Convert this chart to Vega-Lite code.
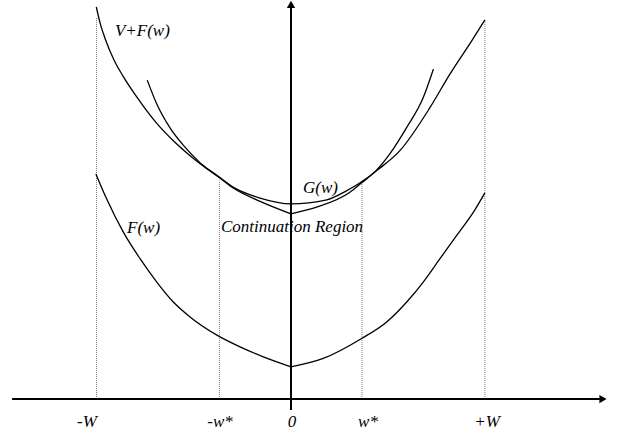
{
  "$schema": "https://vega.github.io/schema/vega-lite/v6.json",
  "width": 628,
  "height": 436,
  "padding": 0,
  "autosize": {"type": "fit", "contains": "padding"},
  "background": "white",
  "config": {"view": {"stroke": null}},
  "datasets": {
    "curves": [
      {"curve": "VF-L", "w": -1.001, "v": 3.93},
      {"curve": "VF-L", "w": -0.980, "v": 3.759},
      {"curve": "VF-L", "w": -0.956, "v": 3.615},
      {"curve": "VF-L", "w": -0.910, "v": 3.399},
      {"curve": "VF-L", "w": -0.862, "v": 3.232},
      {"curve": "VF-L", "w": -0.776, "v": 2.982},
      {"curve": "VF-L", "w": -0.690, "v": 2.764},
      {"curve": "VF-L", "w": -0.605, "v": 2.59},
      {"curve": "VF-L", "w": -0.519, "v": 2.44},
      {"curve": "VF-L", "w": -0.433, "v": 2.31},
      {"curve": "VF-L", "w": -0.374, "v": 2.229},
      {"curve": "VF-L", "w": -0.297, "v": 2.116},
      {"curve": "VF-L", "w": -0.159, "v": 1.982},
      {"curve": "VF-L", "w": 0.0, "v": 1.857},
      {"curve": "VF-R", "w": 0.0, "v": 1.857},
      {"curve": "VF-R", "w": 0.132, "v": 1.923},
      {"curve": "VF-R", "w": 0.303, "v": 2.073},
      {"curve": "VF-R", "w": 0.365, "v": 2.17},
      {"curve": "VF-R", "w": 0.441, "v": 2.29},
      {"curve": "VF-R", "w": 0.560, "v": 2.49},
      {"curve": "VF-R", "w": 0.715, "v": 2.923},
      {"curve": "VF-R", "w": 0.817, "v": 3.257},
      {"curve": "VF-R", "w": 0.929, "v": 3.59},
      {"curve": "VF-R", "w": 0.997, "v": 3.80},
      {"curve": "G", "w": -0.739, "v": 3.197},
      {"curve": "G", "w": -0.690, "v": 2.957},
      {"curve": "G", "w": -0.622, "v": 2.718},
      {"curve": "G", "w": -0.554, "v": 2.545},
      {"curve": "G", "w": -0.468, "v": 2.37},
      {"curve": "G", "w": -0.374, "v": 2.232},
      {"curve": "G", "w": -0.298, "v": 2.125},
      {"curve": "G", "w": -0.159, "v": 2.015},
      {"curve": "G", "w": 0.0, "v": 1.957},
      {"curve": "G", "w": 0.184, "v": 1.997},
      {"curve": "G", "w": 0.278, "v": 2.08},
      {"curve": "G", "w": 0.365, "v": 2.18},
      {"curve": "G", "w": 0.437, "v": 2.29},
      {"curve": "G", "w": 0.509, "v": 2.46},
      {"curve": "G", "w": 0.595, "v": 2.723},
      {"curve": "G", "w": 0.680, "v": 3.023},
      {"curve": "G", "w": 0.732, "v": 3.307},
      {"curve": "F-L", "w": -1.003, "v": 2.257},
      {"curve": "F-L", "w": -0.948, "v": 2.007},
      {"curve": "F-L", "w": -0.862, "v": 1.673},
      {"curve": "F-L", "w": -0.776, "v": 1.407},
      {"curve": "F-L", "w": -0.690, "v": 1.173},
      {"curve": "F-L", "w": -0.605, "v": 0.973},
      {"curve": "F-L", "w": -0.519, "v": 0.823},
      {"curve": "F-L", "w": -0.374, "v": 0.633},
      {"curve": "F-L", "w": -0.262, "v": 0.523},
      {"curve": "F-L", "w": -0.142, "v": 0.423},
      {"curve": "F-L", "w": 0.0, "v": 0.323},
      {"curve": "F-R", "w": 0.0, "v": 0.323},
      {"curve": "F-R", "w": 0.166, "v": 0.407},
      {"curve": "F-R", "w": 0.363, "v": 0.607},
      {"curve": "F-R", "w": 0.492, "v": 0.773},
      {"curve": "F-R", "w": 0.595, "v": 0.973},
      {"curve": "F-R", "w": 0.680, "v": 1.173},
      {"curve": "F-R", "w": 0.766, "v": 1.407},
      {"curve": "F-R", "w": 0.852, "v": 1.64},
      {"curve": "F-R", "w": 0.938, "v": 1.873},
      {"curve": "F-R", "w": 0.997, "v": 2.067}
    ],
    "axes": [
      {"name": "h", "w": -1.434, "w2": 1.59, "v": 0, "v2": 0},
      {"name": "v", "w": 0, "w2": 0, "v": -0.11, "v2": 3.93}
    ],
    "arrows": [
      {"name": "up", "w": 0, "v": 3.955, "shape": "triangle-up"},
      {"name": "right", "w": 1.604, "v": 0, "shape": "triangle-right"}
    ],
    "guides": [
      {"name": "-W", "w": -1.0, "v": 0, "v2": 3.82},
      {"name": "-w*", "w": -0.368, "v": 0, "v2": 2.19},
      {"name": "w*", "w": 0.365, "v": 0, "v2": 2.19},
      {"name": "+W", "w": 0.997, "v": 0, "v2": 3.80}
    ],
    "labels": [
      {"label": "V+F(w)", "w": -0.905, "v": 3.69},
      {"label": "G(w)", "w": 0.062, "v": 2.12},
      {"label": "F(w)", "w": -0.843, "v": 1.71},
      {"label": "Continuation Region", "w": -0.36, "v": 1.72}
    ],
    "ticks": [
      {"label": "-W", "w": -1.049, "v": -0.23},
      {"label": "-w*", "w": -0.365, "v": -0.23},
      {"label": "0", "w": 0.005, "v": -0.23},
      {"label": "w*", "w": 0.396, "v": -0.23},
      {"label": "+W", "w": 1.008, "v": -0.23}
    ]
  },
  "layer": [
    {
      "data": {"name": "guides"},
      "mark": {"type": "rule", "color": "#777777", "strokeWidth": 1, "strokeDash": [1, 1]},
      "encoding": {
        "x": {"field": "w", "type": "quantitative", "scale": {"domain": [-1.4961, 1.7326], "nice": false, "zero": false}, "axis": null},
        "y": {"field": "v", "type": "quantitative", "scale": {"domain": [-0.37, 3.99], "nice": false, "zero": false}, "axis": null},
        "y2": {"field": "v2"}
      }
    },
    {
      "data": {"name": "axes"},
      "mark": {"type": "rule", "color": "black", "strokeWidth": 2},
      "encoding": {
        "x": {"field": "w", "type": "quantitative"},
        "x2": {"field": "w2"},
        "y": {"field": "v", "type": "quantitative"},
        "y2": {"field": "v2"}
      }
    },
    {
      "data": {"name": "arrows"},
      "mark": {"type": "point", "filled": true, "color": "black", "opacity": 1, "size": 70},
      "encoding": {
        "x": {"field": "w", "type": "quantitative"},
        "y": {"field": "v", "type": "quantitative"},
        "shape": {"field": "shape", "type": "nominal", "scale": null, "legend": null}
      }
    },
    {
      "data": {"name": "curves"},
      "mark": {"type": "line", "color": "black", "strokeWidth": 1.3, "interpolate": "monotone"},
      "encoding": {
        "x": {"field": "w", "type": "quantitative"},
        "y": {"field": "v", "type": "quantitative"},
        "detail": {"field": "curve", "type": "nominal"},
        "order": {"field": "w", "type": "quantitative"}
      }
    },
    {
      "data": {"name": "labels"},
      "mark": {"type": "text", "font": "Liberation Serif", "fontStyle": "italic", "fontSize": 17, "align": "left", "baseline": "middle", "color": "black"},
      "encoding": {
        "x": {"field": "w", "type": "quantitative"},
        "y": {"field": "v", "type": "quantitative"},
        "text": {"field": "label", "type": "nominal"}
      }
    },
    {
      "data": {"name": "ticks"},
      "mark": {"type": "text", "font": "Liberation Serif", "fontStyle": "italic", "fontSize": 17, "align": "center", "baseline": "middle", "color": "black"},
      "encoding": {
        "x": {"field": "w", "type": "quantitative"},
        "y": {"field": "v", "type": "quantitative"},
        "text": {"field": "label", "type": "nominal"}
      }
    }
  ]
}
